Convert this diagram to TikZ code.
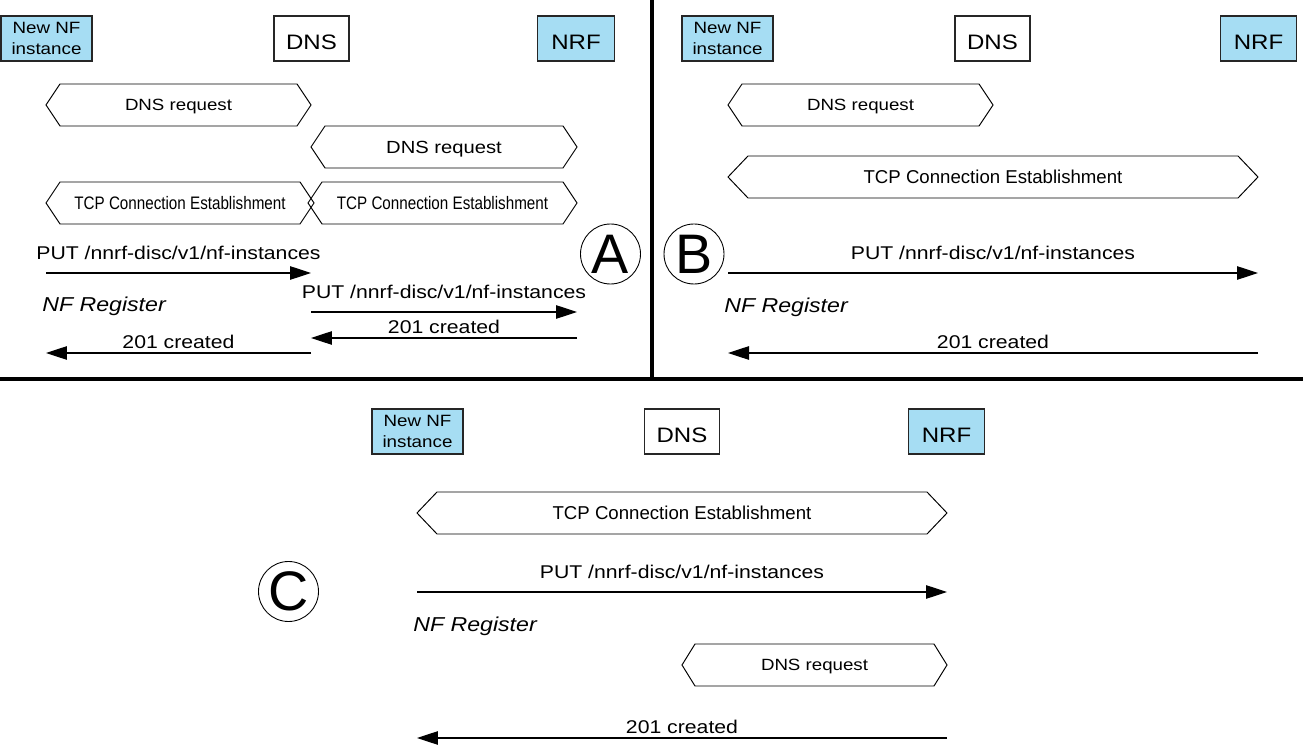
\documentclass[tikz,border=0pt]{standalone}
\usepackage{fontspec}
\setmainfont{Liberation Sans}[FakeStretch=1.15]
\newfontfamily\plainsans{Liberation Sans}
\newfontfamily\narrowsans{Liberation Sans}[FakeStretch=0.84]
\usetikzlibrary{arrows.meta}

\definecolor{nfblue}{RGB}{166,221,243}

% hexagon message: name, left x, right x, mid y, indent, font, text
\newcommand{\hexmsg}[7]{%
  \draw[hexline] (#2,#4) -- (#2+#5,#4-21) -- (#3-#5,#4-21) -- (#3,#4)
    -- (#3-#5,#4+21) -- (#2+#5,#4+21) -- cycle;
  \node[inner sep=0pt,text depth=0pt,font=#6] (#1) at ({(#2+#3)/2},#4) {#7};}

\begin{document}
\begin{tikzpicture}[x=0.02cm,y=-0.02cm,
  box/.style={draw=black!85,line width=0.6pt,inner sep=0pt,minimum height=0.9cm,
    align=center,font=\fontsize{11.9}{14}\selectfont},
  nfbox/.style={box,fill=nfblue,minimum width=1.82cm,font=\fontsize{9.3}{11.9}\selectfont},
  dnsbox/.style={box,minimum width=1.5cm,text height=0.46cm,text depth=0pt},
  nrfbox/.style={box,fill=nfblue,minimum width=1.53cm,text height=0.46cm,text depth=0pt},
  hexline/.style={draw=black,line width=0.55pt},
  msg/.style={line width=0.6pt,-{Triangle[length=4.2mm,width=2.7mm]}},
  putlbl/.style={anchor=base,inner sep=0pt,yshift=0.27cm,font=\fontsize{10.5}{12}\selectfont},
  crlbl/.style={anchor=base,inner sep=0pt,yshift=0.09cm,font=\fontsize{10.5}{12}\selectfont},
  reglbl/.style={anchor=base west,inner sep=0pt,font=\fontsize{11.45}{13}\selectfont\itshape},
  casemark/.style={draw,circle,line width=0.5pt,inner sep=0pt,minimum size=1.2cm,
    font=\plainsans\fontsize{31.7}{34}\selectfont},
  divider/.style={line width=1.8pt}]

\useasboundingbox (0,0) rectangle (1303,746);

\draw[divider] (652,0) -- (652,379);
\draw[divider,line width=2.2pt] (0,379) -- (1303,379);

% case A
\node[nfbox] (a-nf) at (46.5,38.5) {New NF\\instance};
\node[dnsbox] (a-dns) at (311.5,38.5) {DNS};
\node[nrfbox] (a-nrf) at (576,38.5) {NRF};

\hexmsg{a-dnsreq1}{46}{311}{105}{14}{\fontsize{9.25}{11}\selectfont}{DNS request}
\hexmsg{a-dnsreq2}{311}{577}{147}{14}{\fontsize{10}{12}\selectfont}{DNS request}
\hexmsg{a-tcp1}{46}{314}{203}{14}{\narrowsans\fontsize{10.3}{12}\selectfont}{TCP Connection Establishment}
\hexmsg{a-tcp2}{308}{577}{203}{14}{\narrowsans\fontsize{10.3}{12}\selectfont}{TCP Connection Establishment}

\coordinate (a-put1-s) at (46,273);
\coordinate (a-put1-e) at (311,273);
\coordinate (a-put2-s) at (311,312);
\coordinate (a-put2-e) at (577,312);
\coordinate (a-cr2-s) at (577,338);
\coordinate (a-cr2-e) at (311,338);
\coordinate (a-cr1-s) at (311,353);
\coordinate (a-cr1-e) at (46,353);

\draw[msg] (a-put1-s) -- node[putlbl] {PUT /nnrf-disc/v1/nf-instances} (a-put1-e);
\draw[msg] (a-put2-s) -- node[putlbl] {PUT /nnrf-disc/v1/nf-instances} (a-put2-e);
\draw[msg] (a-cr2-s) -- node[crlbl] {201 created} (a-cr2-e);
\draw[msg] (a-cr1-s) -- node[crlbl] {201 created} (a-cr1-e);

\node[reglbl] (a-reg) at (42,312) {NF Register};
\node[casemark] (a-mark) at (610.5,254) {A};

% case B
\node[nfbox] (b-nf) at (727.5,38.5) {New NF\\instance};
\node[dnsbox] (b-dns) at (992.5,38.5) {DNS};
\node[nrfbox] (b-nrf) at (1258.5,38.5) {NRF};

\hexmsg{b-dnsreq}{728}{993}{105}{14}{\fontsize{9.25}{11}\selectfont}{DNS request}
\hexmsg{b-tcp}{728}{1258}{177}{20}{\plainsans\fontsize{10.6}{12}\selectfont}{TCP Connection Establishment}

\coordinate (b-put-s) at (728,273);
\coordinate (b-put-e) at (1258,273);
\coordinate (b-cr-s) at (1258,353);
\coordinate (b-cr-e) at (728,353);

\draw[msg] (b-put-s) -- node[putlbl] {PUT /nnrf-disc/v1/nf-instances} (b-put-e);
\draw[msg] (b-cr-s) -- node[crlbl] {201 created} (b-cr-e);

\node[reglbl] (b-reg) at (724,313) {NF Register};
\node[casemark] (b-mark) at (694,254) {B};

% case C
\node[nfbox] (c-nf) at (417.5,431.5) {New NF\\instance};
\node[dnsbox] (c-dns) at (682,431.5) {DNS};
\node[nrfbox] (c-nrf) at (946.5,431.5) {NRF};

\hexmsg{c-tcp}{417}{947}{513}{20}{\plainsans\fontsize{10.6}{12}\selectfont}{TCP Connection Establishment}
\hexmsg{c-dnsreq}{682}{947}{665}{13}{\fontsize{9.25}{11}\selectfont}{DNS request}

\coordinate (c-put-s) at (417,592);
\coordinate (c-put-e) at (947,592);
\coordinate (c-cr-s) at (947,738);
\coordinate (c-cr-e) at (417,738);

\draw[msg] (c-put-s) -- node[putlbl] {PUT /nnrf-disc/v1/nf-instances} (c-put-e);
\draw[msg] (c-cr-s) -- node[crlbl] {201 created} (c-cr-e);

\node[reglbl] (c-reg) at (413,632) {NF Register};
\node[casemark] (c-mark) at (288.5,591.5) {C};

\end{tikzpicture}
\end{document}
